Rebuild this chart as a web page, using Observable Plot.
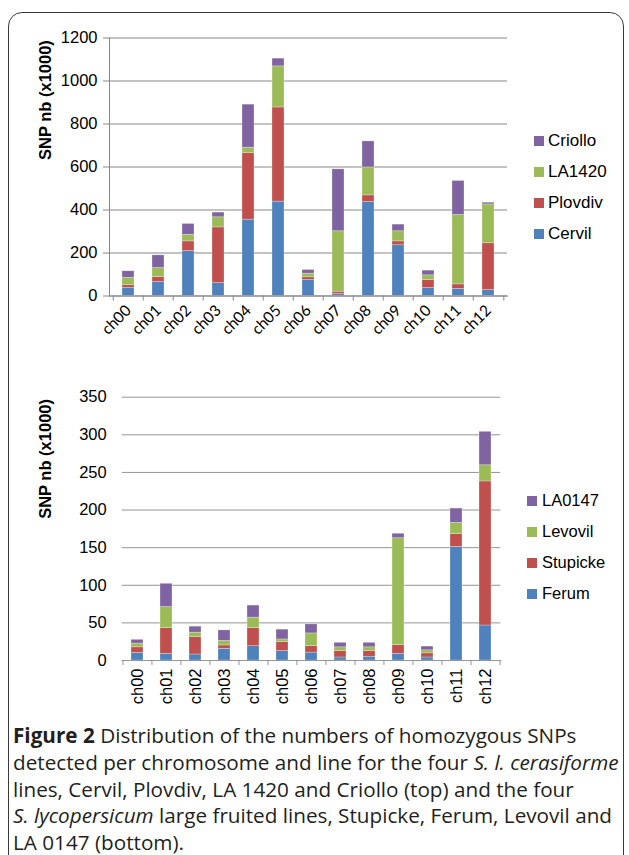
<!DOCTYPE html>
<html><head><meta charset="utf-8">
<script src="https://cdn.jsdelivr.net/npm/d3@7"></script>
<script src="https://cdn.jsdelivr.net/npm/@observablehq/plot@0.6"></script>
<style>
body{margin:0;background:#fff;}
#page{position:relative;width:629px;height:855px;overflow:hidden;font-family:"Liberation Sans",Arial,sans-serif;}
#box{position:absolute;left:8px;top:12px;width:616px;height:900px;border:1.5px solid #3a3a3a;border-radius:14px;box-sizing:border-box;}
.plot{position:absolute;left:0;}
.legend{position:absolute;left:0;top:0;}
.item{position:absolute;white-space:nowrap;display:flex;align-items:center;height:20px;color:#000;font-family:"Liberation Sans",Arial,sans-serif;}
.sw{display:inline-block;width:10px;height:10px;}
#caption{position:absolute;left:13px;top:722px;width:612px;font-family:"Open Sans",sans-serif;font-size:20.7px;line-height:26.75px;color:#231f20;white-space:nowrap;}
</style></head>
<body><div id="page"><div id="box"></div><div id="caption">
<b>Figure 2</b> Distribution of the numbers of homozygous SNPs<br>
detected per chromosome and line for the four <i>S. l. cerasiforme</i><br>
lines, Cervil, Plovdiv, LA 1420 and Criollo (top) and the four<br>
<i>S. lycopersicum</i> large fruited lines, Stupicke, Ferum, Levovil and<br>
LA 0147 (bottom).
</div></div>
<script>
// ---------- data ----------
const chromosomes = ["ch00","ch01","ch02","ch03","ch04","ch05","ch06","ch07","ch08","ch09","ch10","ch11","ch12"];
const colors = ["#4F81BD","#C0504D","#9BBB59","#8064A2"];
const yTitle = "SNP nb (x1000)";

// top: S. l. cerasiforme lines (bottom-to-top stacking order)
const seriesTop = ["Cervil","Plovdiv","LA1420","Criollo"];
const cervil  = [37, 65, 209, 60, 355, 439, 74, 9, 437, 236, 37, 33, 28];
const plovdiv = [13, 23, 45, 259, 309, 438, 13, 11, 31, 18, 37, 21, 217];
const la1420  = [35, 42, 31, 47, 26, 191, 17, 281, 130, 47, 22, 323, 181];
const criollo = [30, 59, 50, 22, 200, 36, 17, 288, 121, 31, 22, 158, 8];
const ticksTop = [0,200,400,600,800,1000,1200];

// bottom: S. lycopersicum large fruited lines
const seriesBot = ["Ferum","Stupicke","Levovil","LA0147"];
const ferum    = [10, 9, 8, 15.5, 19, 12.5, 10.5, 4, 5, 9, 4, 151, 46.5];
const stupicke = [7.5, 34, 23, 4.5, 24, 12, 8.5, 8.5, 7.5, 11.5, 5.5, 17, 191.5];
const levovil  = [5, 28, 6, 6, 14, 3.5, 17, 5, 5, 142, 4, 15, 21.5];
const la0147   = [5, 31, 8, 14, 16, 13, 12, 6, 6, 6, 5, 19, 44.5];
const ticksBot = [0,50,100,150,200,250,300,350];

function tidy(names, arrays){
  const out = [];
  chromosomes.forEach((c,i)=>names.forEach((s,k)=>out.push({chr:c, series:s, value:arrays[k][i]})));
  return out;
}
const topData = tidy(seriesTop,[cervil,plovdiv,la1420,criollo]);
const botData = tidy(seriesBot,[ferum,stupicke,levovil,la0147]);

const page = document.getElementById("page");
const W = 629;
const fmt = d => String(d);

// ---------- top chart ----------
{
  const ml=109, mr=122, mt=37.5, h=350, mb=h-295.5;
  const step = (W-ml-mr)/chromosomes.length;
  const grid = "#878787";
  const svg = Plot.plot({
    width: W, height: h, marginTop: mt, marginBottom: mb, marginLeft: ml, marginRight: mr,
    style:{fontFamily:"'Liberation Sans', Arial, sans-serif", fontSize:"16px", color:"#000", background:"transparent", overflow:"visible"},
    x:{domain: chromosomes, paddingInner:0.6, paddingOuter:0.3, label:null},
    y:{domain:[0,1200], label:null},
    color:{domain: seriesTop, range: colors},
    marks:[
      Plot.gridY(ticksTop, {stroke: grid, strokeOpacity:1}),
      Plot.barY(topData, {x:"chr", y:"value", fill:"series", stroke:"#fff", strokeOpacity:0.45, strokeWidth:0.6}),
      Plot.frame({anchor:"left", stroke: grid}),
      Plot.frame({anchor:"bottom", stroke: grid}),
      Plot.axisY(ticksTop, {tickSize:6, tickPadding:6, tickFormat: fmt, stroke: grid, fill:"#000", fontSize:16.5}),
      Plot.axisX({tickSize:5, tickFormat:()=>"", dx:-step/2, stroke: grid}),
      Plot.ruleX([chromosomes[chromosomes.length-1]], {dx: step/2, y1:0, y2:0, insetBottom:-5, stroke: grid}),
      Plot.axisX({tickSize:0, tickRotate:-45, tickPadding:12, fontFamily:"Lato, sans-serif", fontSize:15.5, fill:"#000"}),
      Plot.text([yTitle], {frameAnchor:"left", rotate:-90, dx:-64, dy:-7, fontWeight:"bold", fontSize:16.5, fill:"#000"})
    ]
  });
  svg.classList.add("plot"); svg.style.top = "0px";
  page.appendChild(svg);
}

// ---------- bottom chart ----------
{
  const top0 = 360;
  const ml=121.7, mr=W-500.3, h=360, mt=396.7-top0, mb=h-(660-top0);
  const step = (W-ml-mr)/chromosomes.length;
  const grid = "#959595";
  const svg = Plot.plot({
    width: W, height: h, marginTop: mt, marginBottom: mb, marginLeft: ml, marginRight: mr,
    style:{fontFamily:"'Liberation Sans', Arial, sans-serif", fontSize:"16px", color:"#000", background:"transparent", overflow:"visible"},
    x:{domain: chromosomes, paddingInner:0.6, paddingOuter:0.3, label:null},
    y:{domain:[0,350], label:null},
    color:{domain: seriesBot, range: colors},
    marks:[
      Plot.gridY(ticksBot, {stroke: grid, strokeOpacity:1}),
      Plot.barY(botData, {x:"chr", y:"value", fill:"series", stroke:"#fff", strokeOpacity:0.45, strokeWidth:0.6}),
      Plot.frame({anchor:"bottom", stroke: grid}),
      Plot.axisY(ticksBot, {tickSize:0, tickPadding:15.5, tickFormat: fmt, fill:"#000", fontSize:16.5}),
      Plot.axisX({tickSize:5, tickFormat:()=>"", dx:-step/2, stroke: grid}),
      Plot.ruleX([chromosomes[chromosomes.length-1]], {dx: step/2, y1:0, y2:0, insetBottom:-5, stroke: grid}),
      Plot.axisX({tickSize:0, tickRotate:-90, tickPadding:8, fontSize:16.5, fill:"#000"}),
      Plot.text([yTitle], {frameAnchor:"left", rotate:-90, dx:-76.7, dy:-10, fontWeight:"bold", fontSize:16.5, fill:"#000"})
    ]
  });
  svg.classList.add("plot"); svg.style.top = top0 + "px";
  page.appendChild(svg);
}

// ---------- legends ----------
function legend(names, swX, textX, centers, fontSize){
  const div = document.createElement("div"); div.className = "legend";
  names.slice().reverse().forEach((n,i)=>{
    const k = names.indexOf(n);
    const it = document.createElement("div"); it.className = "item";
    it.style.left = swX + "px"; it.style.top = (centers[i]-10) + "px"; it.style.fontSize = fontSize + "px";
    const sw = document.createElement("span"); sw.className = "sw"; sw.style.background = colors[k];
    sw.style.marginRight = (textX - swX - 10) + "px";
    it.appendChild(sw); it.appendChild(document.createTextNode(n));
    div.appendChild(it);
  });
  page.appendChild(div);
}
legend(seriesTop, 534, 548, [141,172,203,234], 17);
legend(seriesBot, 527, 542, [500.5,531.7,562.8,593.8], 16.5);
</script></body></html>
